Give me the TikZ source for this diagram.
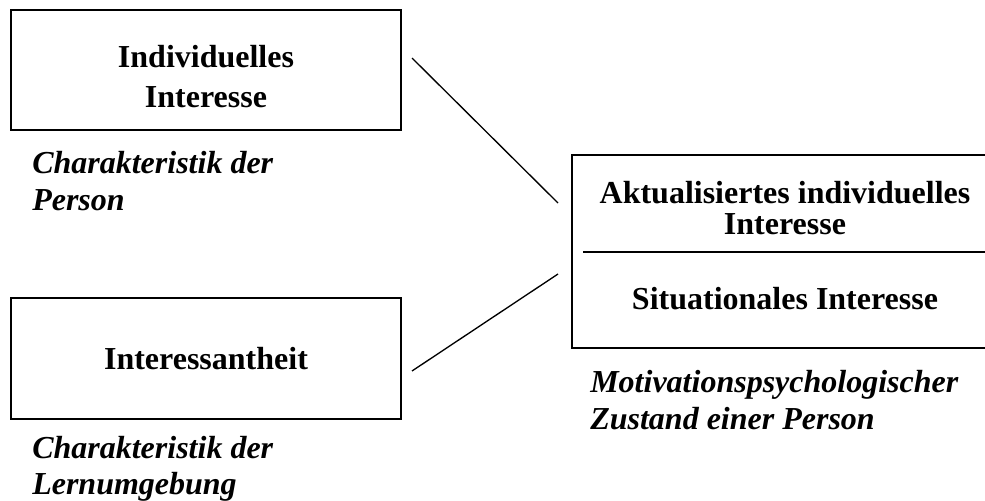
\documentclass[tikz,border=0pt]{standalone}
\usepackage{fontspec}
\setmainfont{Liberation Serif}
\usepackage{tikz}
\usetikzlibrary{positioning, calc}

\begin{document}
\begin{tikzpicture}[x=0.75pt, y=-0.75pt,
  box/.style={draw, line width=1.5pt, rectangle, inner sep=0pt, align=center,
    font=\fontsize{24}{30}\selectfont\bfseries},
  title/.style={inner sep=0pt, align=center, font=\fontsize{24}{23}\selectfont\bfseries},
  note/.style={inner sep=0pt, align=left, anchor=north west,
    font=\fontsize{24}{28}\selectfont\bfseries\itshape},
  link/.style={line width=1pt}]
\useasboundingbox (0,0) rectangle (985,500);

% Left boxes
\node[box, minimum width=292.5pt, minimum height=90pt] (indiv) at (206,70) {};
\node[title, font=\fontsize{24}{30}\selectfont\bfseries] (indivtxt) at (206,77) {Individuelles\\Interesse};
\node[note] (pers) at (32,151) {Charakteristik der\\Person};
\node[box, minimum width=292.5pt, minimum height=90.75pt] (anth) at (206,358.5) {Interessantheit};
\node[note, font=\fontsize{24}{27}\selectfont\bfseries\itshape] (umg) at (32,436) {Charakteristik der\\Lernumgebung};

% Right box
\node[box, anchor=north west, minimum width=322.5pt, minimum height=144.75pt] (zust) at (571,154) {};
\node[title] (akt) at (785,208) {Aktualisiertes individuelles\\Interesse};
\node[title] (sit) at (785,299) {Situationales Interesse};
\draw[line width=1.5pt] ([xshift=9pt]zust.west) -- (zust.east);
\node[note] (mot) at (590,370) {Motivationspsychologischer\\Zustand einer Person};

% Connectors
\coordinate (in1) at (558,203);
\coordinate (in2) at (558,274);
\draw[link] ([shift={(10,-12)}]indiv.east) -- (in1);
\draw[link] ([shift={(10,12.5)}]anth.east) -- (in2);
\end{tikzpicture}
\end{document}
